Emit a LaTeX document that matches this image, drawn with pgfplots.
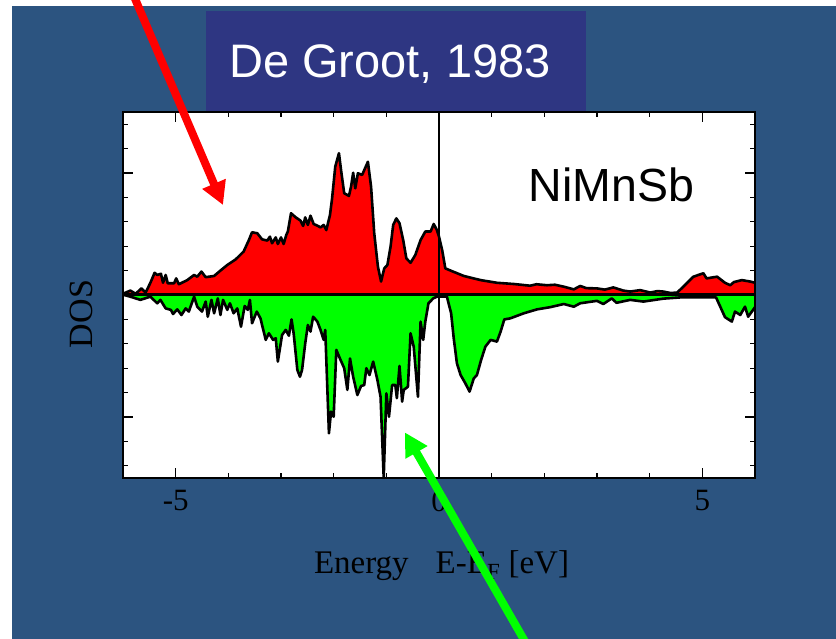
\documentclass[border=0pt]{standalone}
\usepackage{pgfplots}
\pgfplotsset{compat=1.18}
\usepackage{pgfplotstable}
\usepackage{fontspec}
\setmainfont{Liberation Serif}
\newfontfamily\arial{Liberation Sans}
\usetikzlibrary{arrows.meta}
\definecolor{slidebg}{RGB}{44,84,128}
\definecolor{titlebox}{RGB}{46,54,130}
\definecolor{dosred}{RGB}{255,0,0}
\definecolor{dosgreen}{RGB}{0,255,0}

% majority-spin DOS (drawn upwards)
\pgfplotstableread{
x y
-6.00 0.05
-5.98 0.07
-5.86 0.18
-5.76 0.05
-5.65 0.27
-5.57 0.10
-5.48 0.50
-5.40 0.91
-5.35 0.82
-5.28 0.87
-5.24 0.50
-5.19 0.82
-5.15 0.48
-5.03 0.48
-4.99 0.68
-4.94 0.44
-4.78 0.61
-4.65 0.82
-4.59 0.75
-4.51 0.96
-4.43 0.73
-4.27 0.78
-4.15 1.00
-4.02 1.23
-3.86 1.46
-3.71 1.78
-3.61 2.25
-3.55 2.57
-3.45 2.53
-3.36 2.28
-3.26 2.23
-3.21 2.39
-3.17 2.12
-3.10 2.36
-3.06 2.09
-3.00 2.36
-2.95 2.09
-2.90 2.46
-2.87 2.60
-2.81 3.35
-2.72 3.18
-2.63 3.05
-2.58 2.83
-2.54 3.18
-2.49 2.87
-2.44 3.25
-2.38 2.91
-2.30 2.83
-2.25 2.77
-2.19 2.87
-2.14 2.66
-2.07 3.28
-2.03 3.96
-1.97 5.26
-1.90 5.81
-1.86 5.12
-1.80 4.17
-1.71 4.06
-1.67 4.44
-1.63 5.01
-1.59 4.37
-1.54 4.99
-1.46 4.92
-1.35 5.46
-1.29 4.44
-1.23 2.53
-1.16 1.16
-1.10 0.55
-1.04 1.09
-0.98 1.23
-0.92 1.98
-0.87 2.87
-0.81 3.14
-0.75 2.94
-0.68 2.25
-0.62 1.50
-0.54 1.32
-0.45 1.64
-0.35 2.25
-0.26 2.60
-0.16 2.60
-0.10 2.91
-0.04 2.66
0.00 2.39
0.06 1.84
0.12 1.09
0.22 1.00
0.47 0.78
0.79 0.61
1.10 0.50
1.42 0.45
1.60 0.41
1.73 0.38
1.85 0.44
2.05 0.40
2.20 0.42
2.37 0.34
2.56 0.23
2.68 0.37
2.80 0.28
3.00 0.27
3.15 0.22
3.31 0.31
3.50 0.18
3.63 0.14
3.82 0.20
4.01 0.10
4.15 0.16
4.26 0.14
4.40 0.08
4.52 0.10
4.64 0.34
4.83 0.75
5.02 0.89
5.08 0.68
5.28 0.75
5.43 0.50
5.53 0.40
5.60 0.53
5.75 0.61
5.91 0.55
6.00 0.50
}\majority

% minority-spin DOS (drawn downwards)
\pgfplotstableread{
x y
-6.00 0.00
-5.98 0.00
-5.86 -0.07
-5.67 -0.20
-5.48 -0.07
-5.35 -0.34
-5.29 -0.20
-5.19 -0.55
-5.09 -0.61
-5.05 -0.78
-4.97 -0.59
-4.89 -0.82
-4.81 -0.55
-4.75 -0.68
-4.65 -0.07
-4.59 -0.48
-4.50 -0.68
-4.43 -0.27
-4.39 -0.89
-4.32 -0.20
-4.27 -0.75
-4.20 -0.14
-4.15 -0.82
-4.10 -0.20
-4.02 -0.61
-3.97 -0.34
-3.90 -0.75
-3.83 -0.55
-3.76 -1.30
-3.69 -0.45
-3.63 -0.61
-3.59 -0.20
-3.55 -1.16
-3.46 -0.68
-3.39 -0.96
-3.29 -1.84
-3.23 -1.57
-3.15 -1.84
-3.10 -1.77
-3.06 -2.73
-2.98 -1.64
-2.91 -1.43
-2.85 -1.67
-2.80 -1.00
-2.76 -1.57
-2.69 -3.07
-2.64 -3.35
-2.60 -3.07
-2.54 -1.98
-2.49 -1.23
-2.44 -1.50
-2.39 -0.89
-2.31 -1.09
-2.25 -1.43
-2.19 -1.84
-2.16 -1.43
-2.09 -5.67
-2.05 -4.78
-2.00 -4.99
-1.95 -2.25
-1.87 -2.66
-1.80 -3.00
-1.74 -3.89
-1.69 -2.60
-1.63 -3.35
-1.55 -4.10
-1.48 -3.73
-1.42 -3.69
-1.38 -3.00
-1.32 -3.28
-1.25 -2.73
-1.17 -3.48
-1.11 -4.17
-1.05 -7.50
-1.00 -4.03
-0.95 -4.99
-0.89 -3.69
-0.83 -3.69
-0.80 -4.23
-0.75 -2.91
-0.70 -4.37
-0.67 -3.89
-0.59 -3.76
-0.54 -1.57
-0.48 -2.12
-0.40 -4.17
-0.35 -1.09
-0.30 -1.84
-0.26 -1.09
-0.20 -0.34
-0.11 -0.14
-0.04 -0.07
0.00 -0.07
0.15 -0.07
0.23 -0.75
0.28 -1.78
0.34 -2.80
0.41 -3.28
0.50 -3.62
0.58 -3.96
0.66 -3.42
0.72 -3.28
0.80 -2.66
0.88 -2.12
0.98 -1.84
1.10 -1.91
1.17 -1.50
1.24 -1.00
1.35 -0.96
1.61 -0.75
1.86 -0.59
2.11 -0.50
2.37 -0.37
2.56 -0.48
2.68 -0.34
3.00 -0.24
3.12 -0.37
3.28 -0.14
3.37 -0.32
3.63 -0.20
3.88 -0.27
4.26 -0.15
4.58 -0.10
4.90 -0.10
5.26 -0.10
5.34 -0.48
5.43 -0.91
5.56 -1.09
5.62 -0.68
5.72 -0.82
5.81 -0.48
5.87 -0.89
6.00 -0.50
}\minority

\begin{document}
\begin{tikzpicture}[x=1bp,y=1bp]
\useasboundingbox (0,0) rectangle (836,639);
\fill[white] (0,0) rectangle (836,639);
\fill[slidebg] (12,0) rectangle (836,633);
\fill[titlebox] (206,528) rectangle (586,628);
\node[anchor=base, text=white, font=\arial\fontsize{47bp}{56bp}\selectfont, inner sep=0pt]
  at (390,561.7) {De Groot, 1983};

\begin{axis}[
  at={(123bp,161bp)}, anchor=south west,
  scale only axis, width=632bp, height=366bp,
  xmin=-6, xmax=6, ymin=-7.5, ymax=7.5,
  axis background/.style={fill=white},
  axis on top,
  axis line style={line width=2.2bp},
  tick style={line width=1.3bp, black},
  major tick length=10bp, minor tick length=5bp,
  tick align=inside,
  xtick={-5,0,5}, xticklabels={-5,0,5},
  minor xtick={-6,-4,-3,-2,-1,1,2,3,4,6},
  ytick={-5,5}, yticklabels={},
  minor ytick={-7,-6,-4,-3,-2,-1,0,1,2,3,4,6,7},
  xticklabel style={font=\fontsize{31bp}{37bp}\selectfont, yshift=-9bp},
  xlabel={Energy\hspace{27bp}E-E\textsubscript{F} [eV]},
  xlabel style={font=\fontsize{33bp}{40bp}\selectfont,
    at={(axis description cs:0.504,-0.2596)}, anchor=base},
  ylabel={DOS},
  ylabel style={font=\fontsize{34bp}{40bp}\selectfont,
    at={(axis description cs:-0.0665,0.448)}, anchor=center},
]
\addplot[fill=dosred, draw=none] table {\majority} \closedcycle;
\addplot[fill=dosgreen, draw=none] table {\minority} \closedcycle;
\addplot[black, line width=2.6bp, line join=round] table {\majority};
\addplot[black, line width=2.6bp, line join=round] table {\minority};
\addplot[black, line width=3bp] coordinates {(-6,0) (6,0)};
\addplot[black, line width=2bp] coordinates {(0,-7.5) (0,7.5)};
\end{axis}

\node[anchor=base, font=\arial\fontsize{46.5bp}{56bp}\selectfont, inner sep=0pt]
  at (611.5,437.3) {NiMnSb};

% pointers to the two spin channels
\draw[dosred, line width=8bp, -{Triangle[length=23bp, width=24bp]}] (133,645) -- (223,434);
\draw[dosgreen, line width=8bp, -{Triangle[length=23bp, width=24bp]}] (527,-6) -- (405,206.5);
\end{tikzpicture}
\end{document}
